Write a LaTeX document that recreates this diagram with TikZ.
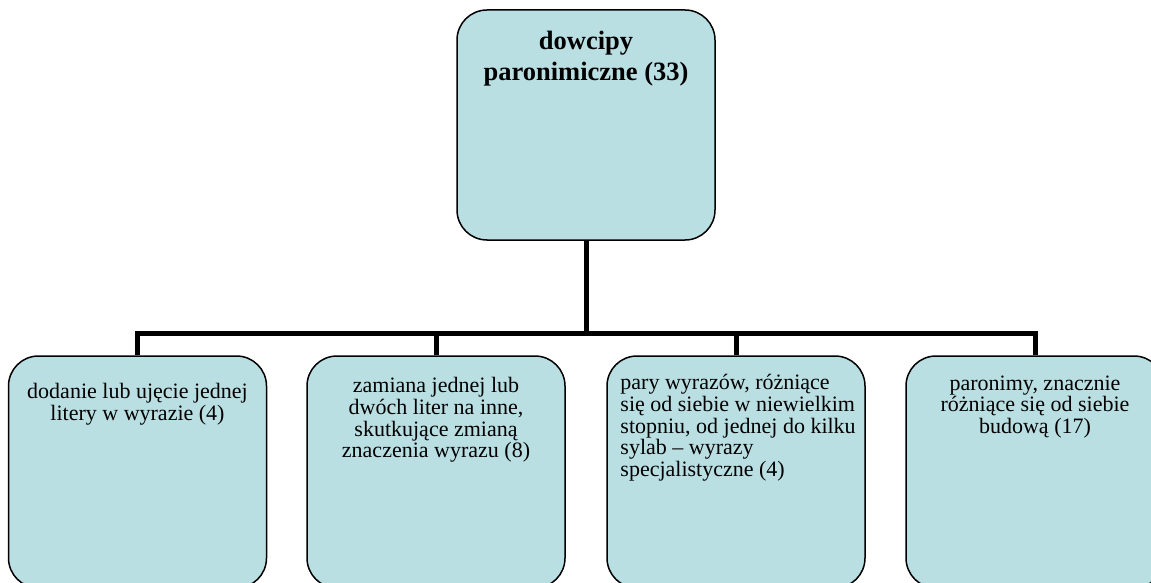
\documentclass[tikz,border=0pt]{standalone}
\usepackage{fontspec}
\setmainfont{Liberation Serif}
\usetikzlibrary{positioning}
\definecolor{boxfill}{RGB}{186,223,227}

\begin{document}
\begin{tikzpicture}[x=1pt,y=-1pt,
  box/.style={draw,line width=1.5pt,fill=boxfill,rounded corners=30pt,minimum width=258pt,minimum height=232pt,inner sep=0pt},
  box text/.style={inner sep=0pt,font=\fontsize{22}{21.7}\selectfont,align=center},
  link/.style={line width=5pt}]
\useasboundingbox (0,0) rectangle (1151,583);

\node[box, minimum height=230pt] (top) at (586,125) {};
\node[box] (a) at (137.5,472) {};
\node[box] (b) at (436,472) {};
\node[box] (c) at (736,472) {};
\node[box] (d) at (1035,472) {};

\node[box text, below=22pt of top.north, font=\fontsize{26.5}{31}\selectfont\bfseries] (toptext) {dowcipy\\paronimiczne (33)};
\node[box text, below=28pt of a.north] (atext) {dodanie lub ujęcie jednej\\litery w wyrazie (4)};
\node[box text, below=22pt of b.north] (btext) {zamiana jednej lub\\dwóch liter na inne,\\skutkujące zmianą\\znaczenia wyrazu (8)};
\node[box text, below right=19pt and 14pt of c.north west, align=left] (ctext) {pary wyrazów, różniące\\się od siebie w niewielkim\\stopniu, od jednej do kilku\\sylab – wyrazy\\specjalistyczne (4)};
\node[box text, below=20pt of d.north] (dtext) {paronimy, znacznie\\różniące się od siebie\\budową (17)};

\coordinate (bar) at (586,333);
\draw[link] (top.south) -- (bar);
\draw[link] (a.north) |- (bar);
\draw[link] (b.north) |- (bar);
\draw[link] (c.north) |- (bar);
\draw[link] (d.north) |- (bar);
\end{tikzpicture}
\end{document}
